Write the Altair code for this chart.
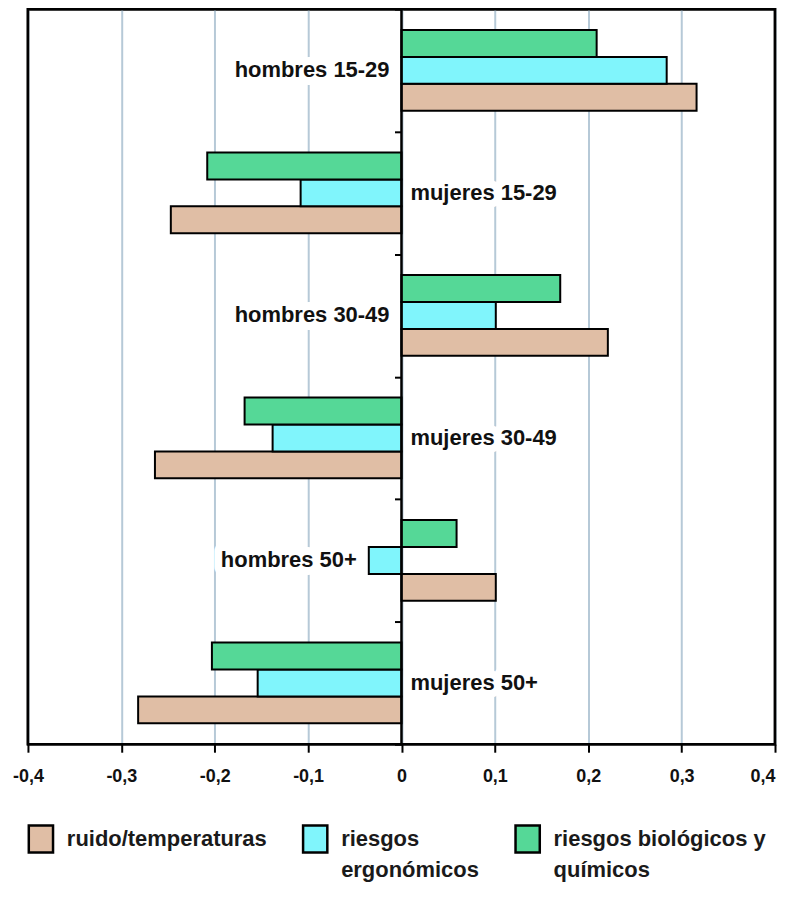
import altair as alt
import pandas as pd

categories = ["hombres 15-29", "mujeres 15-29", "hombres 30-49",
              "mujeres 30-49", "hombres 50+", "mujeres 50+"]
series = ["ruido/temperaturas", "riesgos ergonómicos", "riesgos biológicos y químicos"]
ruido = [0.316, -0.247, 0.221, -0.264, 0.101, -0.282]
ergo = [0.284, -0.108, 0.101, -0.138, -0.035, -0.154]
bio = [0.209, -0.208, 0.170, -0.168, 0.059, -0.203]
colors = ["#e0bea5", "#80f5fc", "#55d897"]
x_ticks = [-0.4, -0.3, -0.2, -0.1, 0, 0.1, 0.2, 0.3, 0.4]

rows = []
for i, c in enumerate(categories):
    for s, vals in zip(series, [ruido, ergo, bio]):
        rows.append({"cat": c, "serie": s, "v": vals[i]})
df = pd.DataFrame(rows)

lab_rows = []
for i, c in enumerate(categories):
    vals = [ruido[i], ergo[i], bio[i]]
    pos = sum(vals) > 0
    anchor = min(0, min(vals)) if pos else max(0, max(vals))
    lab_rows.append({"cat": c, "anchor": anchor, "side": "left" if pos else "right"})
labs = pd.DataFrame(lab_rows)

FONT = "Liberation Sans"
W, H = 749, 737

xscale = alt.Scale(domain=[-0.4, 0.4], nice=False, zero=False)
yscale = alt.Scale(domain=categories, paddingInner=0, paddingOuter=0)

legend_expr = ("split(replace(replace(replace(datum.label, 'riesgos ergonómicos', 'riesgos|ergonómicos'), "
               "'y químicos', 'y|químicos'), 'turas', 'turas| '), '|')")

bars = alt.Chart(df).mark_bar(stroke="black", strokeWidth=2, opacity=1).encode(
    x=alt.X("v:Q", scale=xscale,
            axis=alt.Axis(values=x_ticks, title=None, grid=True, gridColor="#b6c9d7",
                          gridWidth=2, domain=False, tickColor="black", tickWidth=2,
                          tickSize=8, labelFont=FONT, labelFontSize=18,
                          labelFontWeight="bold", labelColor="#111", labelPadding=15,
                          labelAlign={"condition": {"test": "datum.value >= 0.4", "value": "right"},
                                      "value": "center"},
                          labelExpr="datum.value == 0 ? '0' : replace(replace(format(datum.value, '.1f'), '.', ','), '\u2212', '-')")),
    y=alt.Y("cat:N", scale=yscale, sort=categories,
            axis=alt.Axis(title=None, labels=False, domain=False, tickBand="extent",
                          tickColor="black", tickWidth=2, tickSize=7, offset=-374.5)),
    yOffset=alt.YOffset("serie:N", sort=series[::-1],
                        scale=alt.Scale(domain=series[::-1], paddingInner=0, paddingOuter=0.775)),
    fill=alt.Fill("serie:N", scale=alt.Scale(domain=series, range=colors),
                  legend=alt.Legend(orient="none", legendX=-2, legendY=817, direction="horizontal",
                                    title=None, symbolType="M-0.9,-1H0.9V1H-0.9Z", symbolSize=729,
                                    symbolStrokeColor="black", symbolStrokeWidth=2.5,
                                    symbolOpacity=1, labelFont=FONT, labelFontSize=22,
                                    labelFontWeight="bold", labelColor="#1a1a1a",
                                    labelBaseline="middle",
                                    labelOffset=11, columnPadding=30, labelLimit=400,
                                    padding=0, labelExpr=legend_expr)),
)

left = labs[labs.side == "left"]
right = labs[labs.side == "right"]

def label_layers(d, align, dx):
    base = alt.Chart(d).encode(
        x=alt.X("anchor:Q", scale=xscale),
        y=alt.Y("cat:N", scale=yscale, sort=categories),
        text="cat:N",
    )
    halo = base.mark_text(align=align, baseline="middle", dx=dx, font=FONT, fontSize=22,
                          fontWeight="bold", fill="white", stroke="white", strokeWidth=16,
                          strokeJoin="round")
    txt = base.mark_text(align=align, baseline="middle", dx=dx, font=FONT, fontSize=22,
                         fontWeight="bold", color="#111")
    return [halo, txt]

zero = alt.Chart(pd.DataFrame({"z": [0]})).mark_rule(color="black", strokeWidth=2.5).encode(
    x=alt.X("z:Q", scale=xscale)
)

frame = alt.Chart(pd.DataFrame({"f": [1]})).mark_rect(
    fillOpacity=0, stroke="black", strokeWidth=2.5
).encode(
    x=alt.X(datum=-0.4, scale=xscale),
    x2=alt.X2(datum=0.4),
    y=alt.value(0),
    y2=alt.value(H),
)

chart = alt.layer(
    bars, *label_layers(left, "right", -12), *label_layers(right, "left", 9), zero, frame
).properties(
    width=W, height=H,
    autosize=alt.AutoSizeParams(type="none"),
    padding={"left": 20, "top": 0, "right": 4, "bottom": 140},
).configure(
    view=alt.ViewConfig(stroke="black", strokeWidth=2.5),
    style={"guide-label": {"lineHeight": 31},
           "cell": {"stroke": "black", "strokeWidth": 2.5}},
)

chart.save("out.html", embed_options={"renderer": "svg", "actions": False})
